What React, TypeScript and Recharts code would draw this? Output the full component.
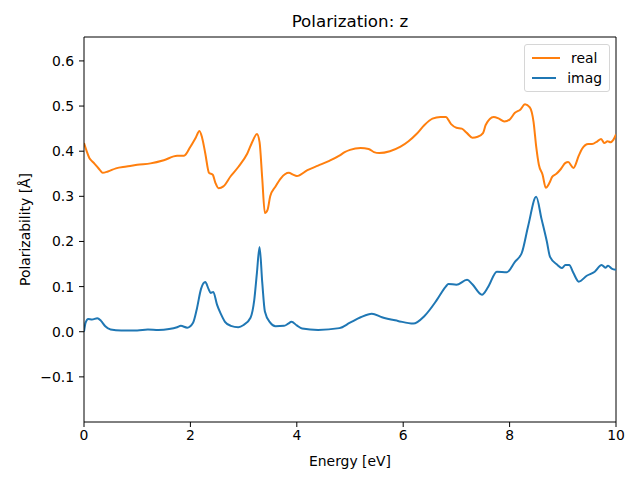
import React from "react";
import { LineChart, Line, XAxis, YAxis, Legend, Label, ReferenceLine } from "recharts";

const realEnergy = [0, 0.05, 0.1, 0.15, 0.2, 0.3, 0.35, 0.45, 0.6, 0.8, 1.0, 1.25, 1.5, 1.75, 1.88, 2.0, 2.1, 2.17, 2.22, 2.28, 2.35, 2.42, 2.47, 2.53, 2.62, 2.76, 2.9, 3.07, 3.18, 3.25, 3.3, 3.35, 3.4, 3.45, 3.5, 3.6, 3.7, 3.85, 3.93, 4.0, 4.2, 4.4, 4.6, 4.8, 4.9, 5.0, 5.2, 5.35, 5.45, 5.55, 5.75, 5.95, 6.1, 6.25, 6.4, 6.55, 6.7, 6.8, 6.9, 7.0, 7.1, 7.2, 7.3, 7.4, 7.5, 7.55, 7.7, 7.8, 7.9, 8.0, 8.1, 8.2, 8.29, 8.38, 8.45, 8.5, 8.55, 8.62, 8.68, 8.75, 8.8, 8.88, 8.96, 9.05, 9.1, 9.2, 9.3, 9.36, 9.48, 9.55, 9.65, 9.72, 9.78, 9.84, 9.9, 9.95, 10];
const realValues = [0.418, 0.4, 0.385, 0.378, 0.372, 0.358, 0.352, 0.355, 0.362, 0.366, 0.37, 0.373, 0.38, 0.39, 0.39, 0.41, 0.43, 0.445, 0.43, 0.395, 0.352, 0.348, 0.33, 0.318, 0.322, 0.345, 0.365, 0.395, 0.425, 0.438, 0.42, 0.34, 0.263, 0.27, 0.3, 0.322, 0.34, 0.352, 0.348, 0.345, 0.358, 0.368, 0.378, 0.39, 0.398, 0.403, 0.407, 0.405, 0.398, 0.396, 0.4, 0.41, 0.422, 0.438, 0.458, 0.472, 0.476, 0.476, 0.46, 0.452, 0.45, 0.44, 0.43, 0.432, 0.44, 0.458, 0.476, 0.472, 0.466, 0.47, 0.485, 0.492, 0.504, 0.497, 0.465, 0.41, 0.37, 0.348, 0.319, 0.33, 0.343, 0.35, 0.36, 0.374, 0.376, 0.363, 0.39, 0.405, 0.416, 0.416, 0.422, 0.427, 0.418, 0.422, 0.42, 0.425, 0.437];

const imagEnergy = [0, 0.03, 0.08, 0.15, 0.25, 0.32, 0.4, 0.5, 0.7, 1.0, 1.2, 1.4, 1.6, 1.75, 1.82, 1.94, 2.05, 2.12, 2.2, 2.28, 2.34, 2.38, 2.43, 2.5, 2.57, 2.65, 2.76, 2.9, 3.0, 3.13, 3.2, 3.25, 3.3, 3.35, 3.4, 3.5, 3.6, 3.76, 3.84, 3.9, 4.0, 4.1, 4.4, 4.8, 5.0, 5.2, 5.41, 5.6, 5.9, 6.19, 6.4, 6.63, 6.8, 6.85, 7.0, 7.2, 7.3, 7.48, 7.6, 7.76, 7.95, 8.1, 8.23, 8.35, 8.5, 8.6, 8.7, 8.76, 8.9, 8.98, 9.05, 9.12, 9.2, 9.3, 9.45, 9.6, 9.73, 9.8, 9.85, 9.92, 10];
const imagValues = [0.0, 0.02, 0.028, 0.027, 0.03, 0.024, 0.012, 0.005, 0.003, 0.003, 0.005, 0.004, 0.006, 0.01, 0.013, 0.009, 0.02, 0.05, 0.095, 0.11, 0.095, 0.086, 0.088, 0.06, 0.04, 0.022, 0.013, 0.01, 0.015, 0.031, 0.07, 0.13, 0.188, 0.11, 0.045, 0.02, 0.012, 0.013, 0.018, 0.022, 0.014, 0.007, 0.004, 0.008, 0.02, 0.032, 0.04, 0.032, 0.024, 0.018, 0.035, 0.07, 0.1, 0.106, 0.104, 0.115, 0.105, 0.082, 0.1, 0.133, 0.132, 0.155, 0.175, 0.235, 0.299, 0.25, 0.2, 0.166, 0.148, 0.141, 0.148, 0.148, 0.13, 0.111, 0.124, 0.133, 0.148, 0.142, 0.146, 0.14, 0.137];

const xTicks = [0, 2, 4, 6, 8, 10];
const yTicks = [-0.1, 0, 0.1, 0.2, 0.3, 0.4, 0.5, 0.6];
const xDomain = [0, 10];
const yDomain = [-0.2, 0.653];

const seriesNames = ["real", "imag"];
const seriesColors = ["#ff7f0e", "#1f77b4"];

const realData = realEnergy.map((e, i) => ({ e, real: realValues[i] }));
const imagData = imagEnergy.map((e, i) => ({ e, imag: imagValues[i] }));

const FONT = "'DejaVu Sans', sans-serif";
const tickStyle = { fill: "#000", fontSize: 13.9, fontFamily: FONT };

const fmtY = (v: number) => (v < 0 ? "\u2212" + Math.abs(v).toFixed(1) : v.toFixed(1));

const LegendBox = () => (
  <div
    style={{
      border: "1px solid #d6d6d6",
      borderRadius: 3,
      background: "rgba(255,255,255,0.8)",
      padding: "3px 7px 3px 7px",
      fontFamily: FONT,
      fontSize: 13.9,
      lineHeight: "20px",
      boxSizing: "border-box",
    }}
  >
    {seriesNames.map((n, i) => (
      <div key={n} style={{ display: "flex", alignItems: "center" }}>
        <span style={{ display: "inline-block", width: 28, height: 2, background: seriesColors[i], marginRight: 11 }} />
        <span>{n}</span>
      </div>
    ))}
  </div>
);

export default function App() {
  return (
    <div style={{ position: "absolute", left: 0, top: 0, width: 640, height: 480, background: "#fff" }}>
      <div
        style={{
          position: "absolute",
          left: 84,
          width: 532,
          top: 11,
          textAlign: "center",
          fontFamily: FONT,
          fontSize: 16.7,
          lineHeight: "20px",
        }}
      >
        Polarization: z
      </div>
      <LineChart width={640} height={480} margin={{ top: 37, right: 24, bottom: 0, left: 0 }}>
        <XAxis
          xAxisId="b"
          type="number"
          dataKey="e"
          domain={xDomain}
          ticks={xTicks}
          allowDataOverflow
          height={58}
          stroke="#000"
          tickSize={5}
          tickMargin={3}
          tick={tickStyle}
          tickFormatter={(v: number) => String(v)}
        >
          <Label value="Energy [eV]" position="insideBottom" offset={14} style={{ fill: "#000", fontSize: 13.9, fontFamily: FONT }} />
        </XAxis>
        <YAxis
          yAxisId="l"
          type="number"
          domain={yDomain}
          ticks={yTicks}
          allowDataOverflow
          width={84}
          stroke="#000"
          tickSize={5}
          tickMargin={5}
          tick={tickStyle}
          tickFormatter={fmtY}
        >
          <Label
            value="Polarizability [Å]"
            angle={-90}
            position="insideLeft"
            offset={25}
            style={{ fill: "#000", fontSize: 13.9, fontFamily: FONT, textAnchor: "middle" }}
          />
        </YAxis>
        <ReferenceLine xAxisId="b" yAxisId="l" y={yDomain[1]} stroke="#000" strokeWidth={1} ifOverflow="visible" />
        <ReferenceLine xAxisId="b" yAxisId="l" x={xDomain[1]} stroke="#000" strokeWidth={1} ifOverflow="visible" />
        <Legend
          layout="horizontal"
          verticalAlign="middle"
          align="center"
          content={() => <LegendBox />}
          wrapperStyle={{ position: "absolute", left: 524, top: 44, width: 86, height: "auto" }}
        />
        <Line
          xAxisId="b"
          yAxisId="l"
          data={realData}
          dataKey="real"
          name="real"
          type="monotone"
          stroke={seriesColors[0]}
          strokeWidth={2}
          dot={false}
          isAnimationActive={false}
        />
        <Line
          xAxisId="b"
          yAxisId="l"
          data={imagData}
          dataKey="imag"
          name="imag"
          type="monotone"
          stroke={seriesColors[1]}
          strokeWidth={2}
          dot={false}
          isAnimationActive={false}
        />
      </LineChart>
    </div>
  );
}
